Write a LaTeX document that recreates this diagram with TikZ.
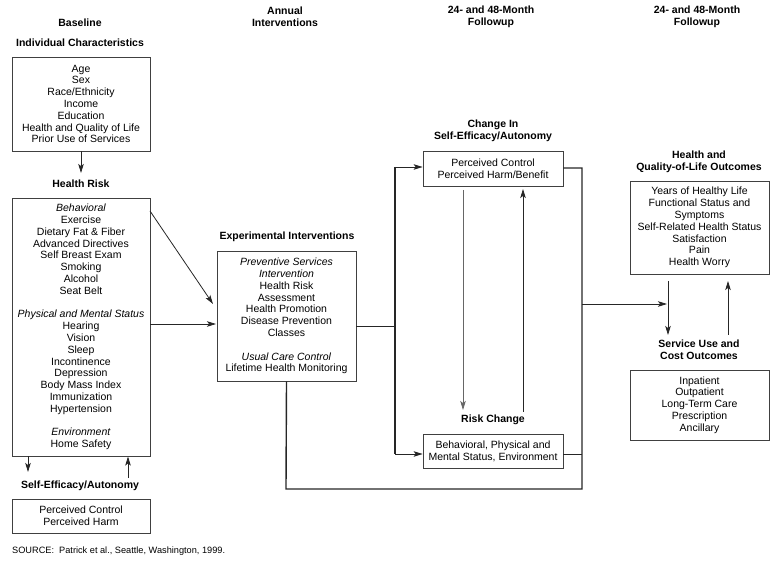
\documentclass[tikz,border=0pt]{standalone}
\usepackage{fontspec}
\setmainfont{Liberation Sans}
\usetikzlibrary{arrows.meta}
\newcommand\myfs{\fontsize{10.5}{11.8}\selectfont}
\begin{document}
\begin{tikzpicture}[x=1pt,y=-1pt,
  box/.style={draw=black!75, line width=0.7pt, align=center, inner sep=0pt, font=\myfs},
  head/.style={font=\myfs\bfseries, align=center, inner sep=0pt},
  arr/.style={-{Stealth[length=9pt,width=5.5pt,inset=2pt]}, line width=0.8pt, draw=black!85},
  thickline/.style={line width=1.4pt, draw=black!85},
  thinline/.style={line width=0.8pt, draw=black!85}]
\useasboundingbox (0,0) rectangle (777,561);

% column headers
\node[head] (hBase) at (80,23) {Baseline};
\node[head] (hAnn) at (285,17) {Annual\\Interventions};
\node[head] (hFol1) at (491,17) {24- and 48-Month\\Followup};
\node[head] (hFol2) at (697,17) {24- and 48-Month\\Followup};

% baseline column
\node[head] (lIC) at (80,43) {Individual Characteristics};
\node[box, minimum width=138pt, minimum height=94pt] (ic) at (81,104)
  {Age\\Sex\\Race/Ethnicity\\Income\\Education\\Health and Quality of Life\\Prior Use of Services};
\node[head] (lHR) at (81,184) {Health Risk};
\node[box, minimum width=138pt, minimum height=258pt] (hr) at (81,327)
  {\textit{Behavioral}\\Exercise\\Dietary Fat \& Fiber\\Advanced Directives\\Self Breast Exam\\Smoking\\Alcohol\\Seat Belt\\[11.8pt]
   \textit{Physical and Mental Status}\\Hearing\\Vision\\Sleep\\Incontinence\\Depression\\Body Mass Index\\Immunization\\Hypertension\\[11.8pt]
   \textit{Environment}\\Home Safety};
\node[head] (lSE) at (80,486) {Self-Efficacy/Autonomy};
\node[box, minimum width=138pt, minimum height=34pt] (se) at (81,516)
  {Perceived Control\\Perceived Harm};
\node[anchor=west, inner sep=0pt, font=\fontsize{9.2}{11}\selectfont] (src) at (12,551)
  {SOURCE:\ \ Patrick et al., Seattle, Washington, 1999.};

% interventions
\node[head] (lEX) at (287,237) {Experimental Interventions};
\node[box, minimum width=139pt, minimum height=130pt] (exp) at (286.5,316)
  {\textit{Preventive Services}\\\textit{Intervention}\\Health Risk\\Assessment\\Health Promotion\\Disease Prevention\\Classes\\[11.8pt]
   \textit{Usual Care Control}\\Lifetime Health Monitoring};

% change column
\node[head] (lCH) at (493,131) {Change In\\Self-Efficacy/Autonomy};
\node[box, minimum width=140pt, minimum height=35pt] (chg) at (493,168.5)
  {Perceived Control\\Perceived Harm/Benefit};
\node[head] (lRC) at (493,420) {Risk Change};
\node[box, minimum width=140pt, minimum height=34pt] (risk) at (493,451)
  {Behavioral, Physical and\\Mental Status, Environment};

% outcomes column
\node[head] (lHQ) at (699,161.5) {Health and\\Quality-of-Life Outcomes};
\node[box, minimum width=139pt, minimum height=93pt] (hq) at (699.5,227.5)
  {Years of Healthy Life\\Functional Status and\\Symptoms\\Self-Related Health Status\\Satisfaction\\Pain\\Health Worry};
\node[head] (lSV) at (699,350) {Service Use and\\Cost Outcomes};
\node[box, minimum width=139pt, minimum height=70pt] (svc) at (699.5,405)
  {Inpatient\\Outpatient\\Long-Term Care\\Prescription\\Ancillary};

% coordinates
\coordinate (icT) at (81,173);
\coordinate (seD) at (28,472);
\coordinate (seU) at (128,478);
\coordinate (hrD) at (28,456);
\coordinate (hrU) at (128,456.5);
\coordinate (hrA) at (150,211);
\coordinate (exA) at (213,304);
\coordinate (hrB) at (150,324);
\coordinate (exB) at (216,324);
\coordinate (exR) at (395,326);
\coordinate (vL1) at (395,167);
\coordinate (vL2) at (395,454);
\coordinate (exBot) at (286,489);
\coordinate (bR) at (582,489);
\coordinate (tR) at (582,168);
\coordinate (rR) at (582,454);
\coordinate (mR) at (582,304);
\coordinate (mE) at (667,304);
\coordinate (dA) at (463,190);
\coordinate (dB) at (463,410);
\coordinate (uA) at (523,412);
\coordinate (uB) at (523,189);
\coordinate (hqD1) at (668,281);
\coordinate (hqD2) at (668,335);
\coordinate (hqU1) at (728,335);
\coordinate (hqU2) at (728,281);

% connectors
\draw[arr] (ic.south) -- (icT);
\draw[arr] (hrD) -- (seD);
\draw[arr] (seU) -- (hrU);
\draw[arr] (hrA) -- (exA);
\draw[arr] (hrB) -- (exB);
\draw[thinline] (exp.east |- exR) -- (exR);
\draw[thickline] (vL1) -- (vL2);
\draw[arr] (vL1) -- (chg.west |- vL1);
\draw[arr] (vL2) -- (risk.west |- vL2);
\draw[thickline] (exp.south) -- (exBot) -- (bR) -- (tR) -- (chg.east |- tR);
\draw[thinline] (risk.east |- rR) -- (rR);
\draw[arr] (mR) -- (mE);
\draw[arr, draw=black!60] (dA) -- (dB);
\draw[arr] (uA) -- (uB);
\draw[arr] (hqD1) -- (hqD2);
\draw[arr] (hqU1) -- (hqU2);
\end{tikzpicture}
\end{document}
